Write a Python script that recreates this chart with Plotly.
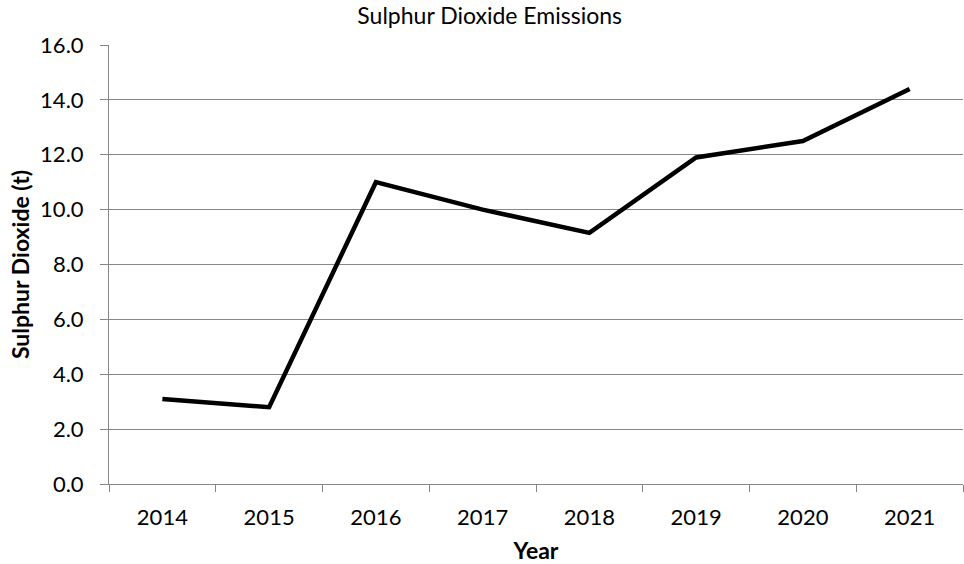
import plotly.graph_objects as go

years = ["2014", "2015", "2016", "2017", "2018", "2019", "2020", "2021"]
so2 = [3.1, 2.8, 11.0, 10.0, 9.15, 11.9, 12.5, 14.4]

FONT = "Lato"
GRID = "#878787"

fig = go.Figure(
    go.Scatter(
        x=years,
        y=so2,
        mode="lines",
        line=dict(color="black", width=4.5),
        showlegend=False,
        hoverinfo="x+y",
    )
)

fig.update_layout(
    width=964,
    height=564,
    margin=dict(l=109, r=1, t=45, b=80),
    paper_bgcolor="white",
    plot_bgcolor="white",
    font=dict(family=FONT, color="black", size=22),
    title=dict(
        text="Sulphur Dioxide Emissions",
        x=0.508,
        xref="container",
        xanchor="center",
        y=0.971,
        yref="container",
        yanchor="middle",
        font=dict(family=FONT, size=23, color="black"),
    ),
)

fig.update_xaxes(
    type="category",
    range=[-0.5, 7.5],
    tickson="boundaries",
    ticks="outside",
    ticklen=7,
    tickcolor=GRID,
    showline=True,
    linecolor=GRID,
    linewidth=1,
    showgrid=False,
    automargin=False,
    ticklabelstandoff=14,
    tickfont=dict(family=FONT, size=22),
    title=dict(text="<b>Year</b>", standoff=22, font=dict(family=FONT, size=23)),
)

fig.update_yaxes(
    range=[0, 16],
    dtick=2,
    tickformat=".1f",
    ticks="outside",
    ticklen=8,
    tickcolor=GRID,
    showline=True,
    linecolor=GRID,
    linewidth=1,
    showgrid=True,
    gridcolor=GRID,
    gridwidth=1,
    zeroline=False,
    automargin=False,
    ticklabelstandoff=12,
    tickfont=dict(family=FONT, size=22),
    title=dict(text="<b>Sulphur Dioxide (t)</b>", standoff=4, font=dict(family=FONT, size=23)),
)

fig.write_html(
    "out.html",
    config={"displayModeBar": False},
    post_script="document.body.style.margin='0';",
)
